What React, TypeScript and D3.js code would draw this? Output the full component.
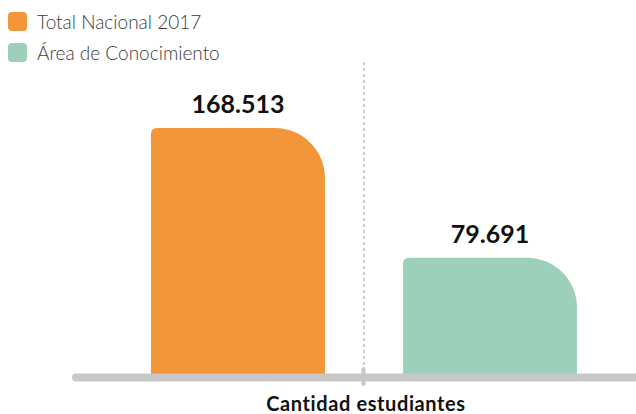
import * as d3 from "d3";

const C = {
  orange: "#f39639",
  green: "#9dd0ba",
  axis: "#c8c8c8",
  dash: "#9a9a9a",
  text: "#3c3c3c",
  label: "#111",
};

const W = 636, H = 414;
const BASE_Y = 374;
const TOP_Y = 128;

// data
const categories = ["Total Nacional 2017", "Área de Conocimiento"];
const values = [168513, 79691];
const valueLabels = ["168.513", "79.691"];
const colors = [C.orange, C.green];
const axisTitle = "Cantidad estudiantes";

const FONT = "Lato, 'Open Sans', sans-serif";

// bar with small top-left radius and large top-right radius
function barPath(x0: number, x1: number, y0: number, y1: number, rl: number, rr: number) {
  return [
    `M${x0},${y1}`,
    `L${x0},${y0 + rl}`,
    `Q${x0},${y0} ${x0 + rl},${y0}`,
    `L${x1 - rr},${y0}`,
    `A${rr},${rr} 0 0 1 ${x1},${y0 + rr}`,
    `L${x1},${y1}`,
    "Z",
  ].join(" ");
}

export default function App() {
  const x = d3.scaleBand<string>().domain(categories).range([151, 577]).paddingInner(0.31).paddingOuter(0);
  const y = d3.scaleLinear().domain([0, values[0]]).range([BASE_Y, TOP_Y]);
  const bw = x.bandwidth();
  const midX = ((x(categories[0]) ?? 0) + bw + (x(categories[1]) ?? 0)) / 2;

  return (
    <div style={{ position: "fixed", left: 0, top: 0, width: W, height: H, background: "#fff" }}>
      <svg width={W} height={H} style={{ display: "block" }}>
        {/* legend */}
        {categories.map((c, i) => (
          <g key={c} transform={`translate(8,${12 + i * 31})`}>
            <rect width={19} height={19} rx={4} fill={colors[i]} />
            <text x={29} y={17} fontFamily={FONT} fontWeight={300} fontSize={19} fill={C.text}>{c}</text>
          </g>
        ))}

        {/* divider */}
        <line x1={midX} x2={midX} y1={62} y2={372} stroke={C.dash} strokeWidth={1} strokeDasharray="3,3" />

        {/* bars */}
        {categories.map((c, i) => {
          const x0 = x(c) ?? 0;
          const yt = y(values[i]);
          return (
            <g key={c}>
              <path d={barPath(x0, x0 + bw, yt, BASE_Y, 6, 50)} fill={colors[i]} />
              <text x={x0 + bw / 2} y={yt - 15} textAnchor="middle" fontFamily={FONT} fontWeight={700}
                fontSize={25} fill={C.label}>{valueLabels[i]}</text>
            </g>
          );
        })}

        {/* baseline */}
        <line x1={76} x2={W + 10} y1={BASE_Y + 3.5} y2={BASE_Y + 3.5} stroke={C.axis} strokeWidth={8} strokeLinecap="round" />
        <line x1={midX - 0.5} x2={midX - 0.5} y1={369} y2={384} stroke={C.axis} strokeWidth={4} strokeLinecap="round" />

        <text x={366} y={411} textAnchor="middle" fontFamily={FONT} fontWeight={700} fontSize={20}
          letterSpacing={0.6} fill={C.label}>
          {axisTitle}
        </text>
      </svg>
    </div>
  );
}
